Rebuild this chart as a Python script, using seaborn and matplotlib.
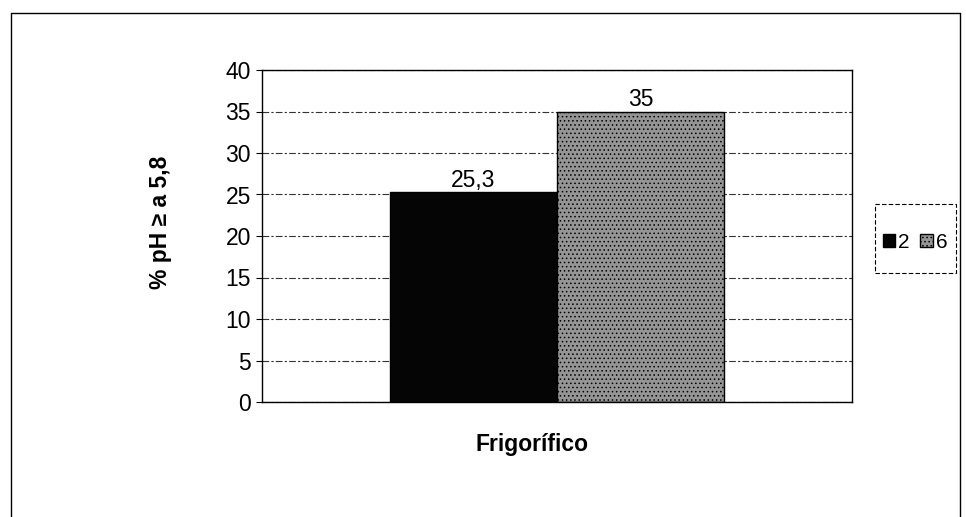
import matplotlib
matplotlib.use("Agg")
import matplotlib.pyplot as plt
import seaborn as sns
import pandas as pd
from matplotlib.lines import Line2D
from matplotlib.patches import Rectangle

categories = ["Frigorífico"]
series = ["2", "6"]
values = [25.3, 35.0]
value_labels = ["25,3", "35"]
yticks = [0, 5, 10, 15, 20, 25, 30, 35, 40]

df = pd.DataFrame({"cat": categories * len(series), "serie": series, "val": values})

sns.set_style("white")
plt.rcParams["font.family"] = ["Liberation Sans", "DejaVu Sans"]
plt.rcParams["text.color"] = "black"
plt.rcParams["ytick.color"] = "black"
plt.rcParams["ytick.labelcolor"] = "black"
plt.rcParams["hatch.color"] = "#6a6a6a"
plt.rcParams["hatch.linewidth"] = 0.6

fig = plt.figure(figsize=(9.66, 5.17), dpi=100)
ax = fig.add_axes([262/966, 1-402/517, (852-262)/966, (402-70)/517])

colors = {"2": "#050505", "6": "#959595"}
sns.barplot(data=df, x="cat", y="val", hue="serie", palette=colors, ax=ax,
            width=0.566, edgecolor="black", linewidth=1.0, legend=False, saturation=1)

# textured look for the grey series
for p in ax.containers[1]:
    p.set_hatch("....")

for cont, lab in zip(ax.containers, value_labels):
    ax.bar_label(cont, labels=[lab], fontsize=16.5, padding=0, color="black")

ax.set_ylim(0, 40)
ax.set_yticks(yticks)
ax.set_yticklabels([str(t) for t in yticks], fontsize=16.5)
ax.set_xticks([])
ax.set_xlabel("")
ax.set_ylabel("")
ax.yaxis.grid(True, linestyle=(0, (6, 2, 2, 2)), color="#333333", linewidth=0.8)
ax.set_axisbelow(True)
for s in ax.spines.values():
    s.set_visible(True)
    s.set_color("black")
    s.set_linewidth(1.0)
ax.tick_params(axis="y", which="both", left=True, length=4, width=0.8, pad=4, colors="black")

fig.text(160/966, 1-222/517, "% pH ≥ a 5,8", rotation=90, ha="center", va="center",
         fontsize=16.5, fontweight="bold")
fig.text(532/966, 1-445/517, "Frigorífico", ha="center", va="center",
         fontsize=16.5, fontweight="bold")

# legend box (dashed frame) and entries
fig.add_artist(Rectangle((875/966, 1-273/517), 81/966, 69/517, transform=fig.transFigure,
                         fill=False, edgecolor="black", linewidth=0.8,
                         linestyle=(0, (4, 2))))
handles = [plt.Rectangle((0, 0), 1, 1, facecolor=colors[s], edgecolor="black") for s in series]
leg = fig.legend(handles, series, loc="center", bbox_to_anchor=(915/966, 1-242/517),
                 ncol=2, prop={"size": 15, "family": ["Liberation Sans"]}, frameon=False,
                 handlelength=0.6, handleheight=0.6, handletextpad=0.15,
                 columnspacing=0.5, borderpad=0.2)
leg.legend_handles[1].set_hatch("....")

# outer chart border
fig.add_artist(Line2D([11/966, 960/966], [1-13/517, 1-13/517], color="black", lw=1.0))
fig.add_artist(Line2D([11/966, 11/966], [1-13/517, 0], color="black", lw=1.0))
fig.add_artist(Line2D([960/966, 960/966], [1-13/517, 0], color="black", lw=1.0))

fig.savefig("out.png", dpi=100)
